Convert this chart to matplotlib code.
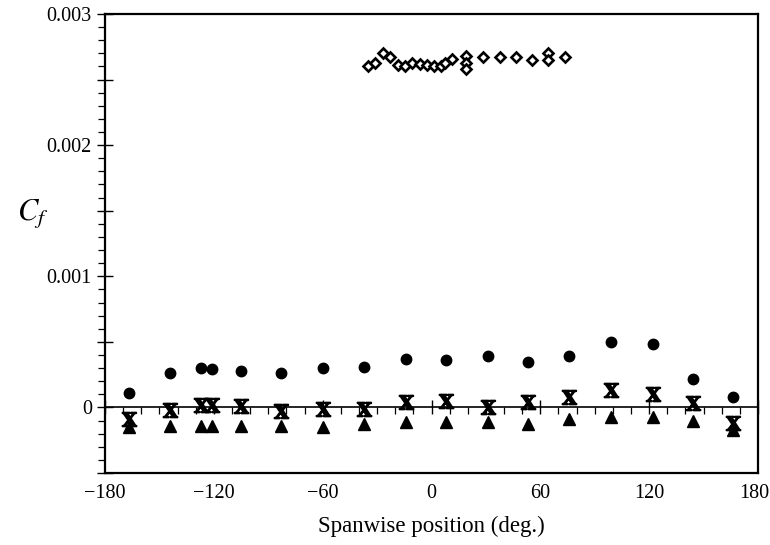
import matplotlib
matplotlib.use("Agg")
import matplotlib.pyplot as plt
import matplotlib.transforms as mtransforms
from matplotlib.ticker import MultipleLocator, FuncFormatter

plt.rcParams["font.family"] = ["Liberation Serif", "DejaVu Serif"]
plt.rcParams["mathtext.fontset"] = "stix"
plt.rcParams["axes.unicode_minus"] = True

# spanwise stations shared by the three lower series
x_pos = [-167, -144, -127, -121, -105, -83, -60, -37, -14, 8, 31, 53, 76, 99, 122, 144, 166]

cf_circles = [0.00011, 0.00026, 0.00030, 0.00029, 0.00028, 0.00026, 0.00030, 0.00031, 0.00037,
              0.00036, 0.00039, 0.00035, 0.00039, 0.00050, 0.00048, 0.00022, 0.00008]
cf_crosses = [-0.00009, -0.00002, 0.00002, 0.00002, 0.00001, -0.00003, -0.00001, -0.00001, 0.00004,
              0.00005, 0.00000, 0.00004, 0.00008, 0.00013, 0.00010, 0.00003, -0.00012]
cf_triangles = [-0.00015, -0.00014, -0.00014, -0.00014, -0.00014, -0.00014, -0.00015, -0.00013, -0.00011,
                -0.00011, -0.00011, -0.00013, -0.00009, -0.00007, -0.00007, -0.00010, -0.00017]

# open diamonds near the top
x_diamonds = [-35, -31, -26.7, -22.9, -18.5, -14.6, -10.7, -6.3, -2.5, 1.4, 5.2, 7.4, 11.3,
              19, 19, 19, 28.4, 37.8, 46.6, 55.4, 64.2, 64.2, 73.6]
cf_diamonds = [0.00260, 0.00263, 0.00270, 0.00267, 0.00261, 0.00260, 0.00263, 0.00262, 0.00261,
               0.00260, 0.00260, 0.00263, 0.00266, 0.00268, 0.00263, 0.00258, 0.00267, 0.00267,
               0.00267, 0.00265, 0.00270, 0.00265, 0.00267]

x_ticks = [-180, -120, -60, 0, 60, 120, 180]

fig = plt.figure(figsize=(7.7, 5.45), dpi=100)
ax = fig.add_axes([0.1364, 0.1321, 0.848, 0.8422])

ax.plot(x_pos, cf_circles, marker="o", color="black", markersize=7.5, linestyle="none")
ax.plot(x_pos, cf_triangles, marker="^", color="black", markersize=8, linestyle="none")
ax.plot(x_pos, cf_crosses, marker=r"$\mathbf{X}$", color="black", markersize=10,
        markeredgewidth=1.4, linestyle="none")
ax.plot(x_diamonds, cf_diamonds, marker="D", markerfacecolor="white", markeredgecolor="black",
        markeredgewidth=1.9, markersize=5.5, linestyle="none")

ax.set_xlim(-180, 180)
ax.set_ylim(-0.0005, 0.003)

for s in ax.spines.values():
    s.set_linewidth(1.6)

# y axis: majors every 0.0005, labels only at 0.001 steps
ax.yaxis.set_major_locator(MultipleLocator(0.0005))
ax.yaxis.set_minor_locator(MultipleLocator(0.0001))


def ylab(v, pos):
    if abs(v) < 1e-9:
        return "0"
    if abs(round(v / 0.001) * 0.001 - v) < 1e-9:
        return f"{v:.3f}"
    return ""


ax.yaxis.set_major_formatter(FuncFormatter(ylab))
ax.tick_params(axis="y", which="major", direction="inout", length=12, width=1.0, labelsize=14.5)
ax.tick_params(axis="y", which="minor", direction="out", length=5, width=0.9)

# bottom spine carries labels only
ax.set_xticks(x_ticks)
ax.tick_params(axis="x", which="both", length=0, labelsize=14.5, pad=8)
last = ax.get_xticklabels()[-1]
last.set_transform(last.get_transform() + mtransforms.ScaledTranslation(-4 / 100, 0, fig.dpi_scale_trans))

# zero line with its own ticks
zero_axis = ax.secondary_xaxis(0.0005 / 0.0035)
zero_axis.set_xticks(x_ticks)
zero_axis.xaxis.set_minor_locator(MultipleLocator(10))
zero_axis.tick_params(which="major", direction="inout", length=10, width=1.0, labelbottom=False)
zero_axis.tick_params(which="minor", direction="out", length=5, width=0.9)
zero_axis.spines["bottom"].set_linewidth(1.2)

ax.set_xlabel("Spanwise position (deg.)", fontsize=16.5, labelpad=9)
ax.set_ylabel(r"$C_f$", fontsize=22, rotation=0, va="center", ha="center")
ax.yaxis.set_label_coords(-0.11, 0.565)

fig.savefig("out.png", dpi=100)
